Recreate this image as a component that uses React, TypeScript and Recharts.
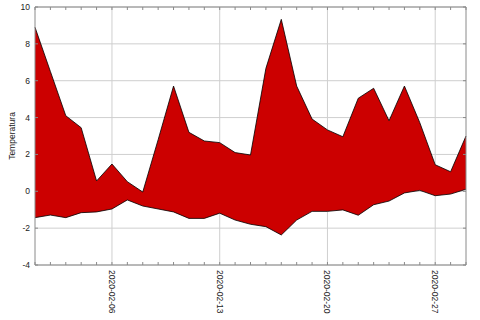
import React from 'react';
import { AreaChart, Area, XAxis, YAxis, CartesianGrid, ReferenceArea } from 'recharts';

const dates = [
  '2020-02-01', '2020-02-02', '2020-02-03', '2020-02-04', '2020-02-05', '2020-02-06', '2020-02-07',
  '2020-02-08', '2020-02-09', '2020-02-10', '2020-02-11', '2020-02-12', '2020-02-13', '2020-02-14',
  '2020-02-15', '2020-02-16', '2020-02-17', '2020-02-18', '2020-02-19', '2020-02-20', '2020-02-21',
  '2020-02-22', '2020-02-23', '2020-02-24', '2020-02-25', '2020-02-26', '2020-02-27', '2020-02-28',
  '2020-02-29',
];
const tMax = [
  8.9, 6.5, 4.1, 3.45, 0.56, 1.48, 0.52, -0.04, 2.8, 5.71, 3.2, 2.73, 2.64, 2.1,
  1.97, 6.67, 9.33, 5.71, 3.92, 3.33, 2.96, 5.05, 5.59, 3.83, 5.71, 3.72, 1.44, 1.06, 3.0,
];
const tMin = [
  -1.43, -1.29, -1.43, -1.16, -1.12, -0.96, -0.47, -0.8, -0.96, -1.12, -1.47, -1.47, -1.19, -1.56,
  -1.79, -1.92, -2.37, -1.56, -1.09, -1.09, -1.01, -1.3, -0.73, -0.53, -0.09, 0.05, -0.24, -0.15, 0.11,
];
const yTicks = [-4, -2, 0, 2, 4, 6, 8, 10];
const majorDates = ['2020-02-06', '2020-02-13', '2020-02-20', '2020-02-27'];

const data = dates.map((d, i) => ({ date: d, range: [tMin[i], tMax[i]] }));

const FONT = '"Liberation Sans", Arial, sans-serif';
const PLOT_W = 431;
const PLOT_H = 258;
const FRAME = '#8a8a8a';

const XTick = (props: any) => {
  const { x, y, payload } = props;
  const major = majorDates.includes(payload.value);
  return (
    <g>
      <line x1={x} y1={y} x2={x} y2={y - 3} stroke={FRAME} strokeWidth={1} />
      <line x1={x} y1={y - PLOT_H} x2={x} y2={y - PLOT_H + 3} stroke={FRAME} strokeWidth={1} />
      {major && (
        <text
          transform={`translate(${x},${y + 5}) rotate(90)`}
          textAnchor="start"
          dominantBaseline="central"
          fontSize={8.5}
          fontFamily={FONT}
          fill="#222"
        >
          {payload.value}
        </text>
      )}
    </g>
  );
};

const YTick = (props: any) => {
  const { x, y, payload } = props;
  return (
    <g>
      <line x1={x} y1={y} x2={x + 3} y2={y} stroke={FRAME} strokeWidth={1} />
      <line x1={x + PLOT_W} y1={y} x2={x + PLOT_W - 3} y2={y} stroke={FRAME} strokeWidth={1} />
      <text
        x={x - 5}
        y={y}
        textAnchor="end"
        dominantBaseline="central"
        fontSize={8.5}
        fontFamily={FONT}
        fill="#222"
      >
        {payload.value}
      </text>
    </g>
  );
};

const vGen = (args: any) => {
  const { xAxis, offset } = args;
  if (xAxis && typeof xAxis.scale === 'function') {
    return majorDates.map((d) => xAxis.scale(d));
  }
  const step = offset.width / (dates.length - 1);
  return majorDates.map((d) => offset.left + dates.indexOf(d) * step);
};

export default function App() {
  return (
    <div style={{ position: 'absolute', left: 0, top: 0, width: 480, height: 320, background: '#fff' }}>
      <AreaChart
        width={480}
        height={320}
        data={data}
        margin={{ top: 7, right: 14, bottom: 0, left: 0 }}
      >
        <CartesianGrid stroke="#cfcfcf" strokeWidth={1} verticalCoordinatesGenerator={vGen} />
        <XAxis
          dataKey="date"
          interval={0}
          height={55}
          tickSize={0}
          tickMargin={0}
          tickLine={false}
          axisLine={false}
          tick={<XTick />}
        />
        <YAxis
          width={35}
          domain={[-4, 10]}
          ticks={yTicks}
          interval={0}
          type="number"
          tickSize={0}
          tickMargin={0}
          tickLine={false}
          axisLine={false}
          tick={<YTick />}
          label={{
            value: 'Temperatura',
            angle: -90,
            position: 'insideLeft',
            offset: 0,
            dx: 12,
            style: { fontSize: 8.5, fontFamily: FONT, fill: '#222', textAnchor: 'middle' },
          }}
        />
        <Area
          type="linear"
          dataKey="range"
          fill="#cc0000"
          fillOpacity={1}
          stroke="#000"
          strokeWidth={0.8}
          isAnimationActive={false}
          dot={false}
          activeDot={false}
        />
        <ReferenceArea
          x1={dates[0]}
          x2={dates[dates.length - 1]}
          y1={-4}
          y2={10}
          fill="none"
          stroke={FRAME}
          strokeWidth={1}
          ifOverflow="visible"
        />
      </AreaChart>
    </div>
  );
}
